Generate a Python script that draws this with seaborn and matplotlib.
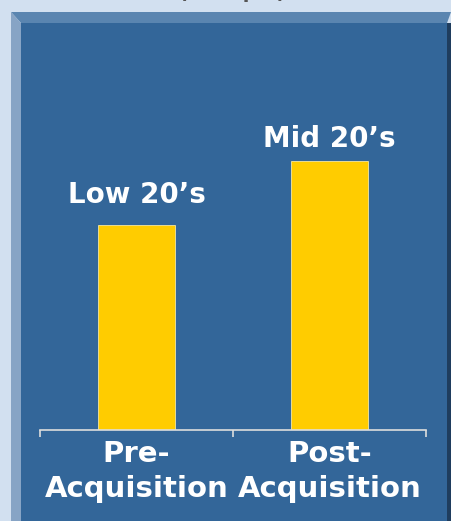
import matplotlib
matplotlib.use('Agg')
import matplotlib.pyplot as plt
import seaborn as sns
import pandas as pd
from matplotlib.patches import Rectangle, Polygon

categories = ['Pre-\nAcquisition', 'Post-\nAcquisition']
values = [21.0, 27.5]
bar_labels = ['Low 20\u2019s', 'Mid 20\u2019s']

df = pd.DataFrame({'period': categories, 'multiple': values})

sns.set_theme(style='white')
plt.rcParams['font.family'] = ['DejaVu Sans']

W, H = 451, 521
fig = plt.figure(figsize=(W / 100, H / 100), dpi=100)
fig.patch.set_facecolor('#D2E0F0')

def px(x, y):
    return (x / W, 1 - y / H)

# panel with bevelled frame (kept behind the axes)
frame = [
    Polygon([px(11, 12), px(451, 12), px(447, 23), px(21, 23)], closed=True,
            facecolor='#5A85B0'),
    Polygon([px(11, 12), px(21, 23), px(21, 521), px(11, 521)], closed=True,
            facecolor='#87A4C5'),
    Rectangle(px(21, 521), (447 - 21) / W, (521 - 23) / H, facecolor='#336699'),
    Rectangle(px(447, 521), 4 / W, (521 - 23) / H, facecolor='#1F3D5E'),
]
for p in frame:
    p.set_transform(fig.transFigure)
    p.set_edgecolor('none')
    p.set_zorder(-5)
    fig.patches.append(p)

# partially visible heading at the top
fig.text(232 / W, 1 + 7 / H, '(Multiple)', ha='center', va='center',
         fontsize=14, fontweight='bold', color='#555555')

ax = fig.add_axes([40 / W, 91 / H, 386 / W, 300 / H])
ax.set_facecolor('none')
ax.set_zorder(2)
sns.barplot(data=df, x='period', y='multiple', color='#FFCC00', width=0.4,
            saturation=1, edgecolor='#F5E6A0', linewidth=0.6, ax=ax)

# gap between bar top and label baseline, in points
label_gap = [16, 10]
for i, (v, lab) in enumerate(zip(values, bar_labels)):
    ax.annotate(lab, (i, v), xytext=(0, label_gap[i]), textcoords='offset points',
                ha='center', va='baseline', fontsize=20, fontweight='bold',
                color='white')

ax.set_xlim(-0.5, 1.5)
ax.set_ylim(0, 30.7)
ax.set_xlabel('')
ax.set_ylabel('')
ax.set_yticks([])
for side in ['left', 'right', 'top']:
    ax.spines[side].set_visible(False)
ax.spines['bottom'].set_color('#DDDDDD')
ax.spines['bottom'].set_linewidth(1.2)

ax.set_xticks([0, 1])
ax.set_xticklabels(categories, fontsize=21, fontweight='bold', color='white',
                   linespacing=1.35)
ax.set_xticks([-0.5, 0.5, 1.5], minor=True)
ax.tick_params(axis='x', which='major', length=0, pad=7)
ax.tick_params(axis='x', which='minor', length=5, width=1.2, color='#DDDDDD',
               direction='out', bottom=True)

fig.savefig('out.png', dpi=100, facecolor=fig.get_facecolor())
